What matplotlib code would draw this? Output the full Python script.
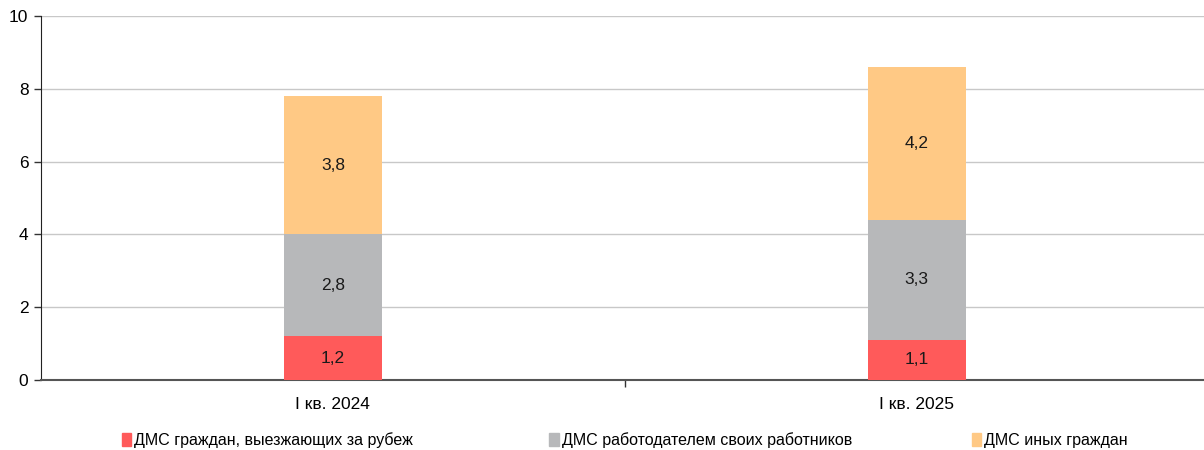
import matplotlib
matplotlib.use("Agg")
import matplotlib.pyplot as plt
import matplotlib.patches as mpatches
import numpy as np

plt.rcParams["font.family"] = ["Liberation Sans", "DejaVu Sans"]

periods = ["I кв. 2024", "I кв. 2025"]
series_names = [
    "ДМС граждан, выезжающих за рубеж",
    "ДМС работодателем своих работников",
    "ДМС иных граждан",
]
abroad = [1.2, 1.1]
employers = [2.8, 3.3]
others = [3.8, 4.2]
colors = ["#FF5A5A", "#B7B8BA", "#FFC985"]

fig = plt.figure(figsize=(12.04, 4.5), dpi=100)
ax = fig.add_axes([0.034, 0.1556, 0.970, 0.8088])

x = np.arange(len(periods))
bottom = np.zeros(len(periods))
for vals, col in zip([abroad, employers, others], colors):
    ax.bar(x, vals, width=0.167, bottom=bottom, color=col, zorder=3)
    for xi, b, v in zip(x, bottom, vals):
        ax.text(xi, b + v / 2, f"{v:.1f}".replace(".", ","), ha="center", va="center",
                fontsize=12.5, color="#1a1a1a", zorder=4)
    bottom += np.array(vals)

ax.set_xlim(-0.5, 1.5)
ax.set_ylim(0, 10)
ax.set_yticks(range(0, 11, 2))
ax.tick_params(axis="y", labelsize=12.5, length=5, width=1, color="#333333", pad=4)
ax.yaxis.grid(True, color="#C8C8C8", linewidth=1, zorder=0)

ax.set_xticks(x)
ax.set_xticklabels(periods, fontsize=12.5)
ax.tick_params(axis="x", length=0, pad=12)
ax.set_xticks([0.5], minor=True)
ax.tick_params(axis="x", which="minor", length=5, width=1, color="#333333")

for s in ["top", "right"]:
    ax.spines[s].set_visible(False)
ax.spines["left"].set_color("#222222")
ax.spines["bottom"].set_color("#555555")
ax.spines["bottom"].set_linewidth(1.5)

# легенда: три отдельных элемента в нижней строке
for name, col, xpos in zip(series_names, colors, [0.101, 0.456, 0.807]):
    handle = mpatches.Patch(color=col, label=name)
    fig.legend(handles=[handle], loc="center left", bbox_to_anchor=(xpos, 0.022),
               frameon=False, fontsize=11.5, handlelength=0.6, handleheight=0.9,
               handletextpad=0.2, borderaxespad=0, borderpad=0)

fig.savefig("out.png", dpi=100)
